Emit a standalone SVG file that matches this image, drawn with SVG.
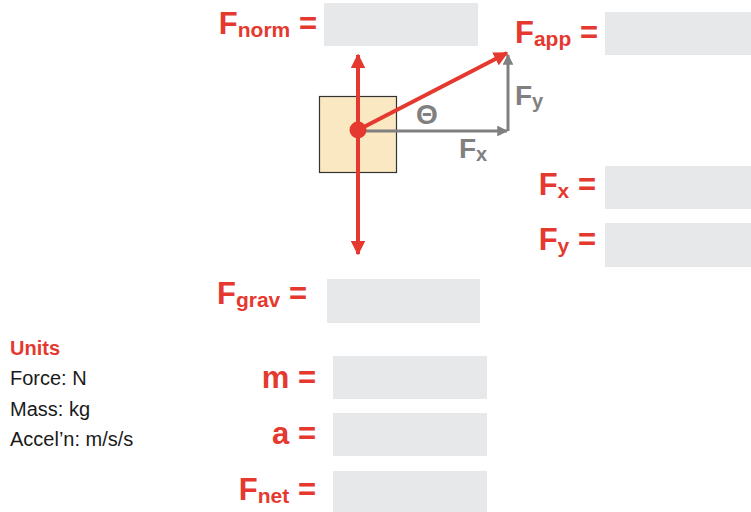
<svg xmlns="http://www.w3.org/2000/svg" width="751" height="512" viewBox="0 0 751 512">
<style>
.box{fill:#e6e8e9}
.lbl{font-family:"Liberation Sans",Arial,sans-serif;font-weight:bold;fill:#e5392f;font-size:31px}
.sub{font-size:21px}
.glbl{font-family:"Liberation Sans",Arial,sans-serif;font-weight:bold;fill:#808080;font-size:28px}
.gsub{font-size:20px}
.units{font-family:"Liberation Sans",Arial,sans-serif;font-size:20px;fill:#1a1a1a}
.red{stroke:#e5392f;stroke-width:4;fill:none}
.gray{stroke:#808080;stroke-width:3;fill:none}
</style>
<defs>
<marker id="ar" viewBox="0 0 10 10" refX="9" refY="5" markerWidth="3.6" markerHeight="3.6" orient="auto" markerUnits="strokeWidth">
<path d="M0,0 L10,5 L0,10 z" fill="#e5392f"/>
</marker>
<marker id="ag" viewBox="0 0 10 10" refX="9" refY="5" markerWidth="3.6" markerHeight="3.6" orient="auto" markerUnits="strokeWidth">
<path d="M0,0 L10,5 L0,10 z" fill="#808080"/>
</marker>
</defs>
<rect width="751" height="512" fill="#ffffff"/>

<g id="block">
<rect x="319.5" y="96.5" width="77" height="76" fill="#f9e8c1" stroke="#333333" stroke-width="1.2"/>
</g>

<g id="connectors">
<line class="gray" x1="358" y1="131" x2="507" y2="131" marker-end="url(#ag)"/>
<line class="gray" x1="508" y1="131" x2="508" y2="55" marker-end="url(#ag)"/>
<line class="red" x1="358" y1="130" x2="358" y2="55" marker-end="url(#ar)"/>
<line class="red" x1="358" y1="130" x2="358" y2="254" marker-end="url(#ar)"/>
<line class="red" x1="358" y1="130" x2="507" y2="53" marker-end="url(#ar)"/>
<circle cx="358" cy="130" r="8.5" fill="#e5392f"/>
</g>

<g id="theta">
<text class="glbl" x="427" y="124" text-anchor="middle" style="font-size:28px">Θ</text>
</g>
<g id="fx-label">
<text class="glbl" x="459" y="158">F<tspan class="gsub" dy="3">x</tspan></text>
</g>
<g id="fy-label">
<text class="glbl" x="515" y="105">F<tspan class="gsub" dy="3">y</tspan></text>
</g>

<g id="fnorm">
<text class="lbl" x="317" y="34" text-anchor="end">F<tspan class="sub" dy="3">norm</tspan><tspan dy="-3"> =</tspan></text>
<rect class="box" x="324" y="3" width="154" height="43"/>
</g>
<g id="fapp">
<text class="lbl" x="598" y="43" text-anchor="end">F<tspan class="sub" dy="3">app</tspan><tspan dy="-3"> =</tspan></text>
<rect class="box" x="605" y="12" width="146" height="43"/>
</g>
<g id="fx">
<text class="lbl" x="596" y="195" text-anchor="end">F<tspan class="sub" dy="3">x</tspan><tspan dy="-3"> =</tspan></text>
<rect class="box" x="605" y="166" width="146" height="43"/>
</g>
<g id="fy">
<text class="lbl" x="596" y="250" text-anchor="end">F<tspan class="sub" dy="3">y</tspan><tspan dy="-3"> =</tspan></text>
<rect class="box" x="605" y="223" width="146" height="44"/>
</g>
<g id="fgrav">
<text class="lbl" x="307" y="304" text-anchor="end">F<tspan class="sub" dy="3">grav</tspan><tspan dy="-3"> =</tspan></text>
<rect class="box" x="327" y="279" width="153" height="44"/>
</g>
<g id="m">
<text class="lbl" x="316" y="388" text-anchor="end">m =</text>
<rect class="box" x="333" y="356" width="154" height="43"/>
</g>
<g id="a">
<text class="lbl" x="316" y="444" text-anchor="end">a =</text>
<rect class="box" x="333" y="413" width="154" height="43"/>
</g>
<g id="fnet">
<text class="lbl" x="316" y="500" text-anchor="end">F<tspan class="sub" dy="3">net</tspan><tspan dy="-3"> =</tspan></text>
<rect class="box" x="333" y="471" width="154" height="41"/>
</g>

<g id="units">
<text class="units" x="10" y="355" style="font-weight:bold;fill:#e5392f">Units</text>
<text class="units" x="10" y="385">Force: N</text>
<text class="units" x="10" y="416">Mass: kg</text>
<text class="units" x="10" y="446">Accel’n: m/s/s</text>
</g>
</svg>
